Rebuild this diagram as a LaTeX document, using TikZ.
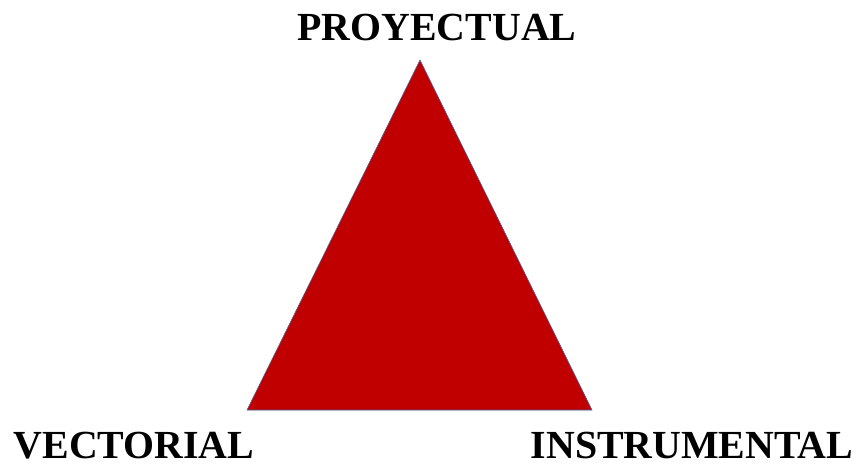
\documentclass[tikz,border=0pt]{standalone}
\usepackage{fontspec}
\setmainfont{Liberation Serif}
\usepackage{tikz}
\usetikzlibrary{positioning}
\definecolor{deepred}{RGB}{192,0,0}
\definecolor{edgeblue}{RGB}{70,100,160}

\begin{document}
\begin{tikzpicture}[x=0.03cm,y=-0.03cm,
  every node/.style={font=\fontsize{34}{40}\selectfont\bfseries,inner sep=0pt,text depth=0pt,anchor=base}]
\useasboundingbox (0,0) rectangle (865,468);
\coordinate (apex) at (420,60);
\coordinate (left) at (247,410);
\coordinate (right) at (592,410);
\fill[deepred,draw=edgeblue,line width=0.5pt,line join=miter] (apex)--(left)--(right)--cycle;
\node (proy) at (437,40) {PROYECTUAL};
\node (vect) at (134,458) {VECTORIAL};
\node (instr) at (692,458) {INSTRUMENTAL};
\end{tikzpicture}
\end{document}
